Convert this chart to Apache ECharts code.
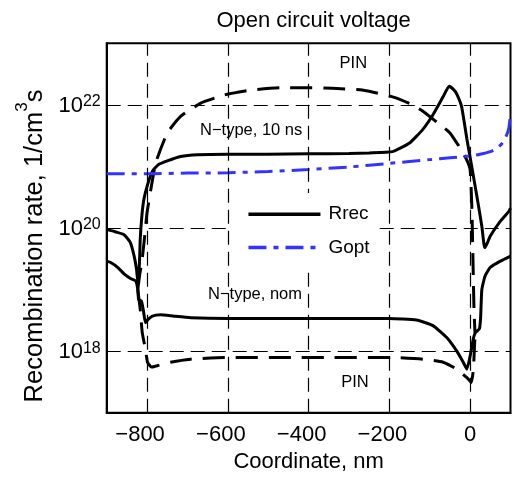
<!DOCTYPE html>
<html>
<head>
<meta charset="utf-8">
<script src="https://cdn.jsdelivr.net/npm/echarts@6/dist/echarts.min.js"></script>
<style>
html,body{margin:0;padding:0;background:#fff;}
#c{width:514px;height:478px;}
</style>
</head>
<body>
<div id="c"></div>
<script>
// ---- data ----
const xTickLabels = [-800, -600, -400, -200, 0];
const yTickExponents = [18, 20, 22];
const yGridValues = [1e18, 1e20, 1e22];

// N-type, 10 ns (solid)
const tenNsX = [-900,-879,-857,-842,-832,-826,-823,-819,-817,-813,-808,-799,-787,-772,-750,-717,-675,-600,-500,-400,-300,-250,-192,-150,-117,-92,-67,-52,-42,-33,-21,-8,4,16,29,36,42,50,75,96,100];
const tenNsY = [9.5e19,8.7e19,7.8e19,5.9e19,3.5e19,2.1e19,1.35e19,2.6e19,6.5e19,1.55e20,2.9e20,5.0e20,8.3e20,1.07e21,1.23e21,1.45e21,1.55e21,1.58e21,1.58e21,1.6e21,1.62e21,1.66e21,1.74e21,2.4e21,4.0e21,6.9e21,1.35e22,2.0e22,1.8e22,1.5e22,9.3e21,2.8e21,1.0e21,3.5e20,1.07e20,4.8e19,5.6e19,7.4e19,1.29e20,1.86e20,2.1e20];

// N-type, nom (solid)
const nomX = [-900,-890,-873,-857,-840,-828,-823,-821,-814,-809,-804,-797,-787,-767,-733,-692,-600,-400,-200,-133,-92,-58,-33,-17,-8,0,8,13,23,26,29,37,50,75,100];
const nomY = [2.9e19,2.75e19,2.3e19,1.8e19,1.5e19,1.38e19,1.0e19,6.9e18,6.5e18,4.5e18,2.9e18,3.3e18,3.7e18,3.9e18,3.7e18,3.5e18,3.4e18,3.4e18,3.4e18,3.2e18,2.6e18,1.66e18,1.0e18,6.6e17,5.1e17,8.3e17,1.6e18,2.0e18,2.3e18,3.5e18,1.0e19,1.66e19,2.3e19,2.9e19,3.5e19];

// PIN, upper (dashed)
const pinHighX = [-823,-818,-813,-807,-800,-790,-782,-775,-750,-717,-667,-608,-542,-467,-400,-341,-267,-192,-150,-117,-75,-50,-25,-8,0,4,7,9.5,12];
const pinHighY = [1.0e19,1.8e19,2.8e19,6.3e19,1.8e20,4.5e20,8.9e20,1.35e21,3.5e21,6.5e21,1.07e22,1.45e22,1.74e22,1.9e22,1.9e22,1.86e22,1.74e22,1.35e22,1.05e22,7.9e21,4.8e21,3.5e21,2.0e21,1.26e21,8.9e20,2.5e20,3.2e19,5.0e18,2.0e18];

// PIN, lower (dashed)
const pinLowX = [-823,-817,-812,-804,-799,-789,-775,-742,-692,-608,-442,-342,-192,-117,-67,-33,-8,3,8,11,12.5];
const pinLowY = [1.0e19,4.8e18,2.0e18,1.07e18,6.6e17,5.5e17,5.8e17,6.6e17,7.4e17,7.9e17,7.9e17,7.9e17,7.9e17,7.4e17,6.6e17,5.1e17,3.7e17,3.1e17,5.0e17,1.26e18,2.0e18];

// Gopt (blue dash-dot)
const goptX = [-900,-800,-700,-600,-500,-400,-300,-200,-100,-50,0,25,50,65,80,90,96,100];
const goptY = [7.6e20,7.6e20,7.8e20,7.9e20,8.3e20,8.9e20,9.8e20,1.12e21,1.29e21,1.38e21,1.48e21,1.58e21,1.74e21,1.95e21,2.4e21,3.2e21,4.2e21,7.6e21];

function pairs(xs, ys){ return xs.map((x,i)=>[x, ys[i]]); }

const FONT = '"Liberation Sans", Arial, Helvetica, sans-serif';
const chart = echarts.init(document.getElementById('c'), null, {renderer:'canvas'});

const gridDash = {color:'#000', width:1.2, type:[14,7]};

const option = {
  animation: false,
  backgroundColor: '#fff',
  textStyle: {fontFamily: FONT, color:'#000'},
  title: {
    text: 'Open circuit voltage',
    left: 308.6, top: 5, textAlign: 'center',
    textStyle: {fontFamily: FONT, fontSize: 22, fontWeight: 'normal', color:'#000'}
  },
  grid: {
    left: 106.7, right: 3.5, top: 43.3, bottom: 65.3,
    show: true, borderColor:'#000', borderWidth: 2, backgroundColor:'#fff',
    containLabel: false, outerBoundsMode: 'none'
  },
  legend: {
    data: ['Rrec','Gopt'],
    orient: 'vertical',
    left: 232, top: 193,
    padding: [11.7, 4, 11, 14.7],
    backgroundColor: '#fff',
    itemWidth: 72, itemHeight: 14, itemGap: 14.3,
    itemStyle: {opacity: 0, borderWidth: 0},
    lineStyle: {width: 3.5},
    textStyle: {fontFamily: FONT, fontSize: 19, color:'#000', padding:[0,0,0,3]},
    selectedMode: false,
    z: 10
  },
  xAxis: {
    type: 'value', min: -900, max: 100, interval: 100,
    name: 'Coordinate, nm', nameLocation: 'middle', nameGap: 38,
    nameTextStyle: {fontFamily: FONT, fontSize: 22, color:'#000'},
    axisLine: {show: true, onZero: false, lineStyle: {color:'#000', width: 2}},
    axisTick: {show: false},
    splitLine: {show: false},
    axisLabel: {
      fontFamily: FONT, fontSize: 22, color:'#000', margin: 11,
      showMinLabel: true, showMaxLabel: true,
      formatter: function(v){
        if (xTickLabels.indexOf(v) < 0) return '';
        return v < 0 ? '{n|\u2212' + (-v) + '}' : '{p|' + v + '}';
      },
      rich: {
        n: {fontFamily: FONT, fontSize: 22, color:'#000', padding:[0,14,0,0]},
        p: {fontFamily: FONT, fontSize: 22, color:'#000'}
      }
    }
  },
  yAxis: {
    type: 'log', logBase: 10, min: 1e17, max: 1e23,
    name: '{a|Recombination rate, 1/cm}{s|3}{a|s}',
    nameLocation: 'middle', nameGap: 58, nameRotate: 90,
    nameTextStyle: {
      fontFamily: FONT, fontSize: 25.5, color:'#000',
      padding: [0, 36, 0, 0],
      rich: {
        a: {fontFamily: FONT, fontSize: 25.5, color:'#000', padding:[8,0,0,0], verticalAlign:'bottom'},
        s: {fontFamily: FONT, fontSize: 17, color:'#000', lineHeight: 17, verticalAlign:'top'}
      }
    },
    axisLine: {show: true, onZero: false, lineStyle: {color:'#000', width: 2}},
    axisTick: {show: false},
    splitLine: {show: false},
    axisLabel: {
      margin: 6,
      formatter: function(v){
        const e = Math.round(Math.log10(v));
        if (yTickExponents.indexOf(e) < 0) return '';
        return '{b|10}{s|' + e + '}';
      },
      rich: {
        b: {fontFamily: FONT, fontSize: 22, color:'#000', lineHeight: 22, padding:[12,0,10,0]},
        s: {fontFamily: FONT, fontSize: 16, color:'#000', lineHeight: 16, verticalAlign:'top'}
      }
    }
  },
  graphic: [
    {type:'text', x:353.3, y:63.3, z:5, style:{text:'PIN', fontFamily: FONT, fontSize:16.5, fill:'#000', align:'center', verticalAlign:'middle'}},
    {type:'text', x:200, y:130, z:5, style:{text:'N\u2212type, 10 ns', fontFamily: FONT, fontSize:16.5, fill:'#000', align:'left', verticalAlign:'middle'}},
    {type:'text', x:208, y:294, z:5, style:{text:'N\u2212type, nom', fontFamily: FONT, fontSize:16.5, fill:'#000', align:'left', verticalAlign:'middle'}},
    {type:'text', x:355, y:382.5, z:5, style:{text:'PIN', fontFamily: FONT, fontSize:16.5, fill:'#000', align:'center', verticalAlign:'middle'}}
  ],
  series: [
    {
      name: 'grid', type: 'line', data: [], z: 1, silent: true,
      markLine: {
        silent: true, symbol: ['none','none'], animation: false,
        label: {show: false},
        lineStyle: gridDash,
        emphasis: {disabled: true},
        data: xTickLabels.map(v => ({xAxis: v})).concat(yGridValues.map(v => ({yAxis: v})))
      }
    },
    {name:'Rrec', type:'line', data: pairs(tenNsX, tenNsY), showSymbol:false, symbol:'none', smooth:0.15, z:3,
      lineStyle:{color:'#000', width:3}, itemStyle:{color:'#000'}},
    {name:'Rrec', type:'line', data: pairs(nomX, nomY), showSymbol:false, symbol:'none', smooth:0.15, z:3,
      lineStyle:{color:'#000', width:3}, itemStyle:{color:'#000'}},
    {name:'PIN', type:'line', data: pairs(pinHighX, pinHighY), showSymbol:false, symbol:'none', smooth:0.15, z:3,
      lineStyle:{color:'#000', width:3, type:[22,11]}, itemStyle:{color:'#000'}},
    {name:'PIN', type:'line', data: pairs(pinLowX, pinLowY), showSymbol:false, symbol:'none', smooth:0.15, z:3,
      lineStyle:{color:'#000', width:3, type:[22,11]}, itemStyle:{color:'#000'}},
    {name:'Gopt', type:'line', data: pairs(goptX, goptY), showSymbol:false, symbol:'none', smooth:0.3, z:4,
      lineStyle:{color:'#3333ff', width:3, type:[18,7,5,7]}, itemStyle:{color:'#3333ff'}}
  ]
};
chart.setOption(option);
</script>
</body>
</html>
